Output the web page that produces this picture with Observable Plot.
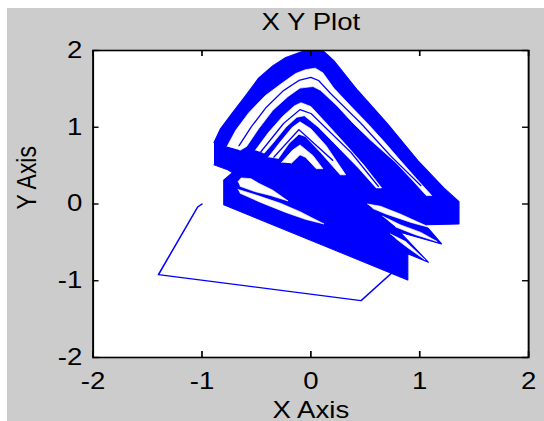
<!DOCTYPE html>
<html><head><meta charset="utf-8">
<script src="https://cdn.jsdelivr.net/npm/d3@7"></script>
<script src="https://cdn.jsdelivr.net/npm/@observablehq/plot@0.6"></script>
<style>
html,body{margin:0;padding:0;background:#fff;}
#wrap{position:relative;width:544px;height:421px;overflow:hidden;background:#fff;}
#bg{position:absolute;left:7px;top:8px;width:537px;height:413px;background:#cccccc;}
#chart{position:absolute;left:0;top:0;}
#chart svg{transform:scaleX(1.2);transform-origin:0 0;display:block;}
</style></head><body>
<div id="wrap"><div id="bg"></div><div id="chart"></div></div>
<script>
// ---- texts & ticks ----
const titleText = "X Y Plot";
const xLabelText = "X Axis";
const yLabelText = "Y Axis";
const xTicks = [-2, -1, 0, 1, 2];
const yTicks = [-2, -1, 0, 1, 2];
const xTickLabels = ["-2", "-1", "0", "1", "2"];
const yTickLabels = ["-2", "-1", "0", "1", "2"];

// ---- trajectory: initial transient (thin line) ----
const transientPath = [[-1.00, 0.00], [-1.04, -0.04], [-1.40, -0.92], [0.46, -1.26], [0.75, -0.89]];

// ---- attractor: dense overall envelope (filled blue) ----
const envelope = [
  [-0.89, 0.80], [-0.83, 0.98], [-0.72, 1.19], [-0.60, 1.41], [-0.48, 1.64], [-0.35, 1.80],
  [-0.23, 1.91], [-0.11, 1.97], [-0.05, 2.00], [0.11, 2.00], [0.21, 1.87], [0.43, 1.48],
  [0.70, 1.05], [0.98, 0.57], [1.22, 0.21], [1.36, 0.03], [1.36, -0.26], [1.05, -0.27],
  [1.20, -0.52], [0.82, -0.37], [1.08, -0.76], [0.89, -0.65], [0.89, -0.99], [-0.80, -0.01],
  [-0.80, 0.31], [-0.72, 0.41], [-0.77, 0.45], [-0.89, 0.51]
];

// ---- gaps between the orbit bundles (white) ----
const gap1 = [
  [-0.77, 0.75], [-0.69, 0.96], [-0.57, 1.19], [-0.42, 1.41], [-0.26, 1.58], [-0.14, 1.70],
  [-0.05, 1.75], [0.04, 1.77], [0.11, 1.71], [0.21, 1.51], [0.37, 1.27], [0.52, 1.05],
  [0.68, 0.80], [0.82, 0.57], [0.97, 0.33], [1.11, 0.11],
  [1.06, 0.11], [0.92, 0.33], [0.78, 0.54], [0.55, 0.83], [0.39, 1.05], [0.24, 1.28],
  [0.09, 1.48], [0.02, 1.53], [-0.10, 1.51], [-0.21, 1.40], [-0.35, 1.22], [-0.48, 0.98],
  [-0.59, 0.75], [-0.65, 0.70]
];
const gap2 = [
  [-0.51, 0.70], [-0.39, 0.93], [-0.26, 1.14], [-0.15, 1.28], [-0.09, 1.32], [0.00, 1.27],
  [0.15, 1.04], [0.33, 0.76], [0.49, 0.50], [0.65, 0.21],
  [0.60, 0.21], [0.43, 0.48], [0.25, 0.74], [0.07, 1.00], [-0.06, 1.15], [-0.13, 1.13],
  [-0.23, 1.00], [-0.35, 0.79], [-0.43, 0.66]
];
const gap3 = [
  [-0.39, 0.61], [-0.28, 0.81], [-0.17, 1.00], [-0.10, 1.07], [0.00, 0.98], [0.14, 0.76], [0.32, 0.38],
  [0.27, 0.38], [0.09, 0.67], [-0.05, 0.88], [-0.11, 0.91], [-0.20, 0.79], [-0.30, 0.59]
];
const gap4 = [
  [-0.27, 0.54], [-0.17, 0.70], [-0.10, 0.77], [0.02, 0.63], [0.11, 0.46],
  [0.05, 0.46], [-0.05, 0.61], [-0.10, 0.64], [-0.18, 0.53]
];
const gap5 = [
  [-0.67, 0.29], [-0.64, 0.34], [-0.55, 0.33], [-0.48, 0.27], [-0.35, 0.18], [-0.21, 0.04],
  [-0.37, 0.11], [-0.51, 0.16], [-0.65, 0.23]
];
const gap6 = [
  [-0.67, 0.19], [-0.51, 0.12], [-0.28, 0.01], [-0.10, -0.10], [0.12, -0.26],
  [-0.05, -0.20], [-0.23, -0.11], [-0.46, 0.02], [-0.65, 0.14]
];
const gap7 = [[0.52, 0.00], [0.64, -0.03], [0.82, -0.13], [1.10, -0.31], [0.92, -0.24], [0.69, -0.13], [0.57, -0.06]];
const gap8 = [[0.66, -0.16], [0.82, -0.27], [1.01, -0.37], [1.16, -0.49], [0.96, -0.40], [0.78, -0.30]];
const gap9 = [[0.73, -0.39], [0.87, -0.49], [1.05, -0.73], [0.89, -0.57], [0.78, -0.45]];

// ---- single orbits visible inside the gaps (thin lines) ----
const orbit1 = [[-0.66, 0.76], [-0.55, 1.00], [-0.41, 1.26], [-0.25, 1.48], [-0.11, 1.61], [0.00, 1.65], [0.07, 1.61], [0.18, 1.44], [0.46, 1.05], [0.73, 0.63], [1.01, 0.24]];
const orbit2 = [[-0.46, 0.68], [-0.25, 1.05], [-0.10, 1.23], [0.00, 1.18], [0.37, 0.67], [0.62, 0.23]];
const orbit3 = [[-0.34, 0.61], [-0.11, 0.97], [0.20, 0.57]];

const gaps = [gap1, gap2, gap3, gap4, gap5, gap6, gap7, gap8, gap9];
const orbits = [orbit1, orbit2, orbit3];

// ---- layout (SVG units; SVG is stretched 1.2x horizontally like the reference) ----
const W = 544 / 1.2, H = 421;
const mL = 77.1, mR = 13.3, mT = 50, mB = 64;
const plotW = W - mL - mR, plotH = H - mT - mB;
const BLUE = "#0000ff";
const font = 23;

const toRows = (pts, id) => pts.map(([x, y]) => ({x, y, id}));
const gapRows = gaps.flatMap((g, i) => toRows(g, i));
const orbitRows = orbits.flatMap((g, i) => toRows(g, i));

const chart = Plot.plot({
  width: W, height: H,
  marginLeft: mL, marginRight: mR, marginTop: mT, marginBottom: mB,
  x: {domain: [-2, 2]},
  y: {domain: [-2, 2]},
  style: {fontFamily: "'Liberation Sans', Arial, sans-serif", fontSize: font + "px", background: "transparent", color: "#000", overflow: "visible"},
  marks: [
    Plot.frame({fill: "white", stroke: null}),
    Plot.line(toRows(envelope, 0), {x: "x", y: "y", fill: BLUE, stroke: BLUE, strokeWidth: 1, clip: true}),
    Plot.line(gapRows, {x: "x", y: "y", z: "id", fill: "white", stroke: "white", strokeWidth: 0.6, clip: true}),
    Plot.line(orbitRows, {x: "x", y: "y", z: "id", stroke: BLUE, strokeWidth: 1.2, clip: true}),
    Plot.line(toRows(transientPath, 0), {x: "x", y: "y", stroke: BLUE, strokeWidth: 1.3}),
    Plot.tickX(xTicks, {x: d => d, insetTop: plotH - 6, stroke: "#000", strokeWidth: 1.4}),
    Plot.tickX(xTicks, {x: d => d, insetBottom: plotH - 6, stroke: "#000", strokeWidth: 1.4}),
    Plot.tickY(yTicks, {y: d => d, insetRight: plotW - 5, stroke: "#000", strokeWidth: 1.4}),
    Plot.tickY(yTicks, {y: d => d, insetLeft: plotW - 5, stroke: "#000", strokeWidth: 1.4}),
    Plot.frame({stroke: "#000", strokeWidth: 1.6}),
    Plot.axisX(xTicks, {tickSize: 0, tickPadding: 15, fontSize: font, label: null,
      tickFormat: d => xTickLabels[xTicks.indexOf(d)]}),
    Plot.axisY(yTicks, {tickSize: 0, tickPadding: 9, fontSize: font, label: null,
      tickFormat: d => yTickLabels[yTicks.indexOf(d)]}),
    Plot.text([titleText], {text: d => d, frameAnchor: "top", dy: -20, lineAnchor: "bottom", fontSize: font, fill: "#000"}),
    Plot.text([xLabelText], {text: d => d, frameAnchor: "bottom", dy: 44, lineAnchor: "top", fontSize: font, fill: "#000"}),
    Plot.text([yLabelText], {text: d => d, frameAnchor: "left", dx: -55, dy: 5.5, rotate: -90, fontSize: font, fill: "#000"})
  ]
});
document.getElementById("chart").appendChild(chart);
</script>
</body></html>
